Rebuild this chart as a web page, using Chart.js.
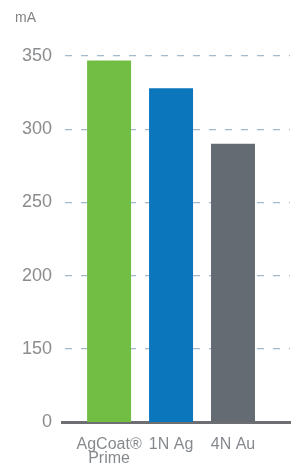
<!DOCTYPE html>
<html>
<head>
<meta charset="utf-8">
<script src="https://cdn.jsdelivr.net/npm/chart.js@4"></script>
<style>
  html,body{ margin:0; padding:0; background:#fff }
  #wrap{ width:306px; height:470px; position:relative }
</style>
</head>
<body>
<div id="wrap"><canvas id="c"></canvas></div>
<script>
// data (axis is broken: bottom tick labelled 0 sits at 100)
const labels = [['AgCoat\u00AE','Prime'], '1N Ag', '4N Au']
const values = [347, 328, 290]
const colors = ['#72be45', '#0b76bc', '#646b72']
const yTicks = [100, 150, 200, 250, 300, 350]
const yTickText = ['0', '150', '200', '250', '300', '350']
const unit = 'mA'

function qs(id){ return document.getElementById(id) }

const unitLabel = {
  id:'unitLabel',
  afterDraw(chart){
    const ctx = chart.ctx
    ctx.save()
    ctx.font = '14px "Liberation Sans", Arial, sans-serif'
    ctx.fillStyle = '#808285'
    ctx.textBaseline = 'alphabetic'
    ctx.fillText(unit, 15, 22)
    ctx.restore()
  }
}

new Chart(qs('c'), {
  type:'bar',
  data:{
    datasets:[{
      data: values.map((v,i)=>({ x:i, y:v })),
      backgroundColor: colors,
      borderWidth:0,
      barPercentage:0.71,
      categoryPercentage:1
    }]
  },
  options:{
    responsive:true,
    maintainAspectRatio:false,
    animation:false,
    layout:{ padding:{ top:56, right:16, bottom:0, left:0 } },
    plugins:{ legend:{ display:false }, tooltip:{ enabled:false } },
    scales:{
      x:{
        type:'linear',
        offset:false,
        min:-0.76, max:2.92,
        afterBuildTicks: s=>{ s.ticks = labels.map((l,i)=>({ value:i })) },
        afterFit: s=>{ s.height = 48 },
        grid:{ display:false, drawTicks:false, offset:false },
        border:{ display:true, color:'#6d6e71', width:3 },
        ticks:{
          padding:16,
          maxRotation:0,
          autoSkip:false,
          color:'#868a8e',
          font:{ family:'"Liberation Sans", Arial, sans-serif', size:16, lineHeight:0.84 },
          callback: v => labels[v]
        }
      },
      y:{
        min:100, max:350,
        afterBuildTicks: s=>{ s.ticks = yTicks.map(v=>({ value:v })) },
        afterFit: s=>{ s.width = 62 },
        border:{ display:false, dash:[7,9], dashOffset:13 },
        grid:{
          drawTicks:false,
          color: c => c.tick && c.tick.value === 100 ? 'rgba(0,0,0,0)' : '#a3b8c9',
          lineWidth:1.3
        },
        ticks:{
          padding:10,
          color:'#8a8c8e',
          font:{ family:'"Liberation Sans", Arial, sans-serif', size:18 },
          callback: v => yTickText[yTicks.indexOf(v)]
        }
      }
    }
  },
  plugins:[unitLabel]
})
</script>
</body>
</html>
